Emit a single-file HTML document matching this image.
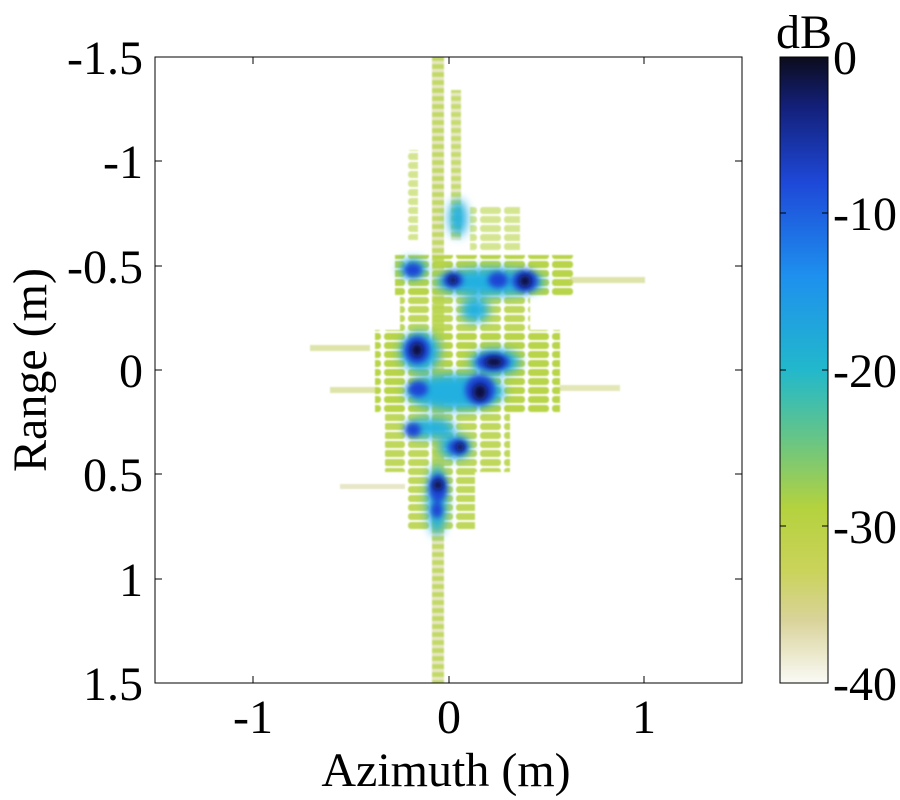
<!DOCTYPE html>
<html><head><meta charset="utf-8"><style>
body{margin:0;background:#fff;}
svg{display:block;font-family:"Liberation Serif",serif;}
</style></head><body>
<svg width="900" height="800" viewBox="0 0 900 800">
<defs>
<linearGradient id="cb" x1="0" y1="0" x2="0" y2="1">
<stop offset="0" stop-color="#0c0c1c"/>
<stop offset="0.08" stop-color="#13207a"/>
<stop offset="0.2" stop-color="#1e48d8"/>
<stop offset="0.35" stop-color="#1e90ee"/>
<stop offset="0.5" stop-color="#22b8cc"/>
<stop offset="0.6" stop-color="#60c48c"/>
<stop offset="0.72" stop-color="#b4d23e"/>
<stop offset="0.82" stop-color="#cad35a"/>
<stop offset="0.9" stop-color="#d9d39a"/>
<stop offset="1" stop-color="#fafaf6"/>
</linearGradient>
<filter id="b0" x="-50%" y="-50%" width="200%" height="200%"><feGaussianBlur stdDeviation="0.8"/></filter>
<filter id="b1" x="-50%" y="-50%" width="200%" height="200%"><feGaussianBlur stdDeviation="3"/></filter>
<filter id="b2" x="-50%" y="-50%" width="200%" height="200%"><feGaussianBlur stdDeviation="5"/></filter>
<pattern id="stripes" width="10" height="8" patternUnits="userSpaceOnUse"><rect width="10" height="5" fill="#b8d44a"/><rect y="5" width="10" height="3" fill="#e4e2b8"/></pattern>
<pattern id="st2" width="24" height="9" patternUnits="userSpaceOnUse"><rect width="21" height="7" rx="3" fill="#b8d44a"/></pattern>
<clipPath id="pc"><rect x="155" y="57" width="587" height="626"/></clipPath>
</defs>
<rect x="155" y="57" width="587" height="626" fill="#fff"/>
<g clip-path="url(#pc)">
<g filter="url(#b0)">
<rect x="432" y="57" width="12" height="626" fill="url(#stripes)" opacity="0.85"/>
<rect x="451" y="90" width="10" height="150" fill="url(#stripes)" opacity="0.8"/>
<rect x="406" y="150" width="12" height="90" fill="url(#st2)" opacity="0.6"/>
<rect x="470" y="205" width="50" height="45" fill="url(#st2)" opacity="0.6"/>
<rect x="395" y="255" width="180" height="40" fill="url(#st2)"/>
<rect x="400" y="295" width="130" height="35" fill="url(#st2)" opacity="0.9"/>
<rect x="375" y="330" width="185" height="82" fill="url(#st2)"/>
<rect x="385" y="412" width="125" height="60" fill="url(#st2)" opacity="0.9"/>
<rect x="405" y="472" width="70" height="58" fill="url(#st2)" opacity="0.9"/>
<rect x="310" y="345" width="60" height="6" fill="#c8d070" opacity="0.6"/>
<rect x="570" y="277" width="75" height="6" fill="#c8d070" opacity="0.6"/>
<rect x="330" y="387" width="45" height="6" fill="#c8d070" opacity="0.6"/>
<rect x="560" y="385" width="60" height="6" fill="#c8d070" opacity="0.5"/>
<rect x="340" y="484" width="65" height="5" fill="#d0d090" opacity="0.5"/>
</g>
<g filter="url(#b2)" fill="#22b0e0">
<ellipse cx="458" cy="218" rx="9" ry="18"/>
<ellipse cx="413" cy="269" rx="14" ry="10"/>
<ellipse cx="490" cy="282" rx="55" ry="14"/>
<ellipse cx="475" cy="310" rx="14" ry="12"/>
<ellipse cx="420" cy="352" rx="20" ry="20"/>
<ellipse cx="495" cy="362" rx="25" ry="13"/>
<ellipse cx="455" cy="392" rx="50" ry="18"/>
<ellipse cx="430" cy="428" rx="25" ry="10"/>
<ellipse cx="455" cy="447" rx="16" ry="12"/>
<ellipse cx="437" cy="500" rx="10" ry="35"/>
</g>
<g filter="url(#b1)" fill="#1e44d4">
<ellipse cx="413" cy="270" rx="9" ry="7"/>
<ellipse cx="453" cy="280" rx="10" ry="8"/>
<ellipse cx="498" cy="280" rx="10" ry="8"/>
<ellipse cx="525" cy="281" rx="13" ry="11"/>
<ellipse cx="417" cy="350" rx="13" ry="14"/>
<ellipse cx="493" cy="362" rx="17" ry="9"/>
<ellipse cx="480" cy="390" rx="15" ry="15"/>
<ellipse cx="418" cy="389" rx="10" ry="8"/>
<ellipse cx="413" cy="430" rx="8" ry="7"/>
<ellipse cx="458" cy="447" rx="10" ry="8"/>
<ellipse cx="438" cy="488" rx="9" ry="14"/>
<ellipse cx="437" cy="510" rx="6" ry="8"/>
</g>
<g filter="url(#b1)" fill="#0a0a3c">
<ellipse cx="417" cy="350" rx="6" ry="7"/>
<ellipse cx="494" cy="362" rx="9" ry="5"/>
<ellipse cx="480" cy="392" rx="7" ry="8"/>
<ellipse cx="525" cy="281" rx="6" ry="6"/>
<ellipse cx="453" cy="280" rx="4" ry="4"/>
<ellipse cx="438" cy="485" rx="5" ry="5"/>
<ellipse cx="460" cy="447" rx="4" ry="4"/>
</g>
</g>
<rect x="155" y="57" width="587" height="626" fill="none" stroke="#000" stroke-width="1"/>
<g stroke="#000" stroke-width="1">
<line x1="253" y1="683" x2="253" y2="676"/><line x1="449" y1="683" x2="449" y2="676"/><line x1="644" y1="683" x2="644" y2="676"/>
<line x1="253" y1="57" x2="253" y2="64"/><line x1="449" y1="57" x2="449" y2="64"/><line x1="644" y1="57" x2="644" y2="64"/>
<line x1="155" y1="161" x2="162" y2="161"/><line x1="155" y1="266" x2="162" y2="266"/><line x1="155" y1="370" x2="162" y2="370"/><line x1="155" y1="474" x2="162" y2="474"/><line x1="155" y1="579" x2="162" y2="579"/>
<line x1="742" y1="161" x2="735" y2="161"/><line x1="742" y1="266" x2="735" y2="266"/><line x1="742" y1="370" x2="735" y2="370"/><line x1="742" y1="474" x2="735" y2="474"/><line x1="742" y1="579" x2="735" y2="579"/>
</g>
<g font-size="48" text-anchor="end" fill="#000">
<text x="143" y="74">-1.5</text><text x="143" y="178">-1</text><text x="143" y="283">-0.5</text>
<text x="143" y="387">0</text><text x="143" y="491">0.5</text><text x="143" y="596">1</text><text x="143" y="700">1.5</text>
</g>
<g font-size="48" text-anchor="middle" fill="#000">
<text x="253" y="733">-1</text><text x="449" y="733">0</text><text x="644" y="733">1</text>
<text x="446" y="786">Azimuth (m)</text>
<text transform="translate(46,370) rotate(-90)">Range (m)</text>
</g>
<rect x="780" y="57" width="48" height="626" fill="url(#cb)" stroke="#000" stroke-width="1"/>
<g stroke="#000" stroke-width="1">
<line x1="780" y1="213" x2="786" y2="213"/><line x1="828" y1="213" x2="822" y2="213"/>
<line x1="780" y1="370" x2="786" y2="370"/><line x1="828" y1="370" x2="822" y2="370"/>
<line x1="780" y1="526" x2="786" y2="526"/><line x1="828" y1="526" x2="822" y2="526"/>
</g>
<g font-size="48" fill="#000">
<text x="833" y="74">0</text><text x="833" y="230">-10</text><text x="833" y="387">-20</text>
<text x="833" y="543">-30</text><text x="833" y="700">-40</text>
<text x="776" y="48">dB</text>
</g>
</svg>
</body></html>
